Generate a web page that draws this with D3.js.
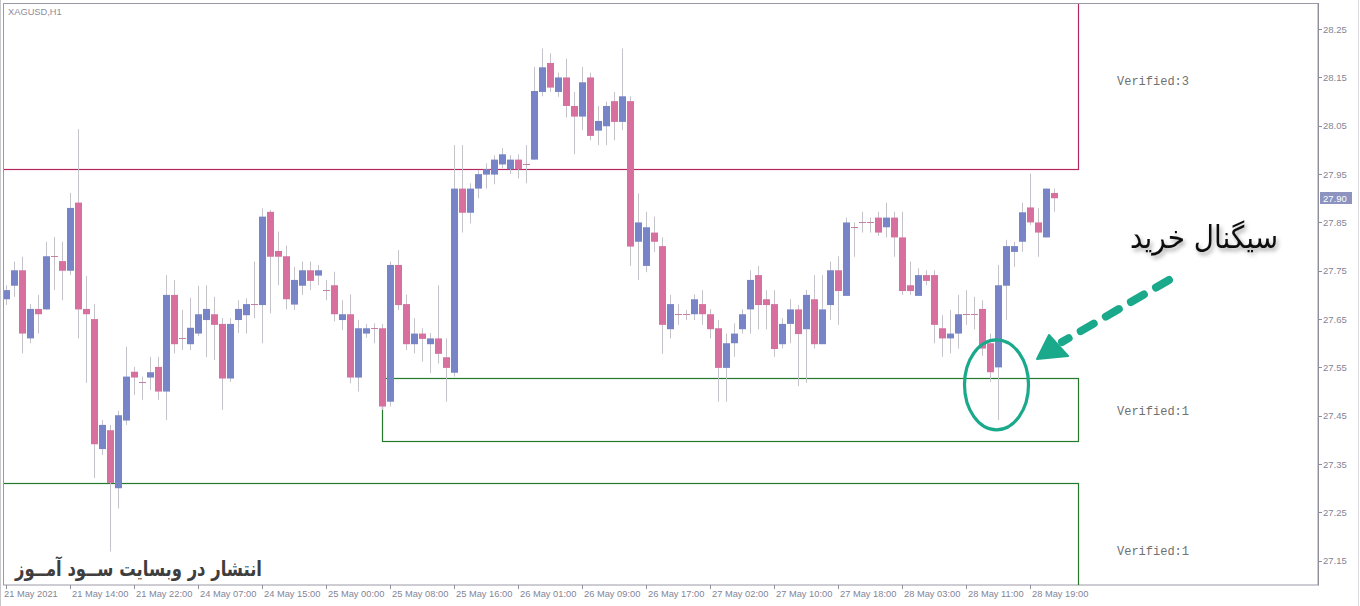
<!DOCTYPE html>
<html><head><meta charset="utf-8">
<script src="https://cdn.jsdelivr.net/npm/d3@7"></script>
<style>html,body{margin:0;padding:0;background:#fff;overflow:hidden}svg{display:block}</style>
</head><body>
<svg id="chart" width="1360" height="606"></svg>
<script>
// ---------------- data ----------------
const symbolTitle = "XAGUSD,H1";
const open = [27.691,27.719,27.751,27.610,27.671,27.670,27.780,27.770,27.750,27.891,
27.671,27.650,27.381,27.420,27.300,27.440,27.541,27.519,27.529,27.551,
27.500,27.700,27.610,27.598,27.620,27.648,27.660,27.640,27.527,27.648,
27.658,27.681,27.679,27.872,27.791,27.780,27.680,27.719,27.751,27.740,
27.710,27.720,27.648,27.660,27.529,27.620,27.631,27.631,27.479,27.762,
27.681,27.598,27.620,27.598,27.610,27.571,27.539,27.920,27.870,27.920,
27.949,27.949,27.970,27.960,27.980,27.970,27.980,28.120,28.180,28.120,
28.150,28.091,28.069,28.150,28.040,28.049,28.101,28.058,28.101,27.810,
27.760,27.829,27.801,27.629,27.660,27.660,27.660,27.681,27.660,27.631,
27.549,27.600,27.629,27.670,27.741,27.691,27.681,27.598,27.640,27.670,
27.629,27.691,27.598,27.679,27.751,27.698,27.840,27.850,27.850,27.860,
27.840,27.860,27.819,27.720,27.698,27.741,27.741,27.631,27.610,27.620,
27.660,27.660,27.671,27.600,27.550,27.719,27.789,27.810,27.881,27.850,
27.819,27.911];
const high = [27.720,27.769,27.779,27.681,27.700,27.810,27.820,27.810,27.911,28.043,
27.739,27.681,27.441,27.431,27.460,27.593,27.551,27.531,27.572,27.572,
27.741,27.731,27.669,27.694,27.719,27.720,27.696,27.652,27.652,27.689,
27.693,27.769,27.879,27.876,27.831,27.802,27.758,27.769,27.769,27.762,
27.731,27.748,27.689,27.701,27.648,27.640,27.641,27.640,27.769,27.793,
27.701,27.652,27.631,27.621,27.720,27.610,28.010,28.010,27.931,27.958,
27.972,27.989,28.004,27.989,27.991,28.010,28.172,28.210,28.200,28.160,
28.189,28.120,28.172,28.160,28.091,28.100,28.120,28.210,28.111,27.910,
27.872,27.862,27.819,27.700,27.681,27.669,27.701,27.710,27.671,27.648,
27.620,27.641,27.670,27.751,27.760,27.710,27.710,27.652,27.691,27.679,
27.710,27.741,27.741,27.769,27.780,27.860,27.850,27.872,27.860,27.872,
27.891,27.872,27.872,27.769,27.755,27.751,27.751,27.658,27.669,27.700,
27.710,27.696,27.689,27.620,27.762,27.814,27.810,27.891,27.951,27.880,
27.920,27.920];
const low = [27.679,27.696,27.579,27.600,27.620,27.669,27.710,27.689,27.741,27.610,
27.518,27.321,27.369,27.169,27.258,27.431,27.493,27.483,27.503,27.483,
27.441,27.579,27.586,27.586,27.615,27.571,27.565,27.462,27.520,27.621,
27.620,27.652,27.600,27.662,27.720,27.670,27.669,27.700,27.710,27.720,
27.689,27.645,27.627,27.517,27.500,27.611,27.600,27.462,27.469,27.669,
27.586,27.579,27.562,27.538,27.558,27.479,27.531,27.829,27.848,27.900,
27.920,27.929,27.962,27.950,27.941,27.931,27.979,28.111,28.120,28.110,
28.067,27.991,28.041,28.020,28.010,28.010,28.020,28.041,27.760,27.731,
27.747,27.789,27.578,27.610,27.638,27.648,27.648,27.638,27.610,27.479,
27.479,27.572,27.620,27.620,27.629,27.629,27.572,27.589,27.600,27.511,
27.518,27.589,27.598,27.648,27.638,27.698,27.779,27.829,27.829,27.822,
27.819,27.779,27.700,27.700,27.698,27.720,27.600,27.572,27.579,27.589,
27.638,27.629,27.574,27.520,27.441,27.648,27.758,27.789,27.845,27.779,
27.819,27.872];
const close = [27.710,27.751,27.620,27.671,27.660,27.780,27.779,27.750,27.880,27.670,
27.660,27.391,27.431,27.311,27.451,27.531,27.529,27.519,27.540,27.500,
27.700,27.598,27.610,27.632,27.660,27.671,27.638,27.527,27.640,27.671,
27.681,27.681,27.862,27.779,27.779,27.691,27.731,27.751,27.729,27.751,
27.710,27.660,27.660,27.529,27.631,27.631,27.631,27.469,27.762,27.679,
27.598,27.620,27.609,27.610,27.578,27.549,27.920,27.870,27.920,27.950,
27.960,27.980,27.991,27.980,27.960,27.970,28.122,28.171,28.129,28.150,
28.091,28.069,28.140,28.029,28.060,28.091,28.058,28.111,27.800,27.850,
27.840,27.810,27.638,27.681,27.660,27.660,27.691,27.660,27.629,27.549,
27.600,27.620,27.660,27.731,27.679,27.679,27.588,27.640,27.670,27.619,
27.700,27.598,27.670,27.751,27.708,27.850,27.840,27.850,27.850,27.829,
27.860,27.819,27.708,27.708,27.741,27.729,27.638,27.610,27.620,27.660,
27.660,27.660,27.589,27.540,27.720,27.801,27.801,27.871,27.850,27.829,
27.920,27.900];

const timeTickBar = [0,8,16,24,32,40,48,56,64,72,80,88,96,104,112,120,128];
const timeTickLabels = ["21 May 2021","21 May 14:00","21 May 22:00","24 May 07:00","24 May 15:00",
"25 May 00:00","25 May 08:00","25 May 16:00","26 May 01:00","26 May 09:00","26 May 17:00",
"27 May 02:00","27 May 10:00","27 May 18:00","28 May 03:00","28 May 11:00","28 May 19:00"];
const priceTicks = [28.25,28.15,28.05,27.95,27.85,27.75,27.65,27.55,27.45,27.35,27.25,27.15];

const zoneTop = [28.333, 27.528, 27.311];
const zoneBottom = [27.960, 27.398, 27.034];
const zoneStartBar = [-1, 47, -1];
const zoneEndBar = [134, 134, 134];
const zoneType = ["supply","demand","demand"];
const zoneLabels = ["Verified:3","Verified:1","Verified:1"];

const signalText = "سیگنال خرید";
const watermarkText = "انتشار در وبسایت ســود آمــوز";
const signalBar = 124;
const signalPrice = 27.514;

// ---------------- layout ----------------
const W = 1360, H = 606;
const L = 4, R = 1318, T = 4, B = 585;
const svg = d3.select("#chart");
const x = d3.scaleLinear().domain([-0.25, 164]).range([L, R]);
const y = d3.scaleLinear().domain([27.0997, 28.302]).range([B, T]);

const BLUE = "#7884c8", PINK = "#d8709f", WICK = "#c3c3c9";
const SUPPLY = "#b5285f", DEMAND = "#25792a", TEAL = "#1ba98b";
const AXIS_TXT = "#858595";

const defs = svg.append("defs");
defs.append("clipPath").attr("id","plot").append("rect")
  .attr("x",L).attr("y",T).attr("width",R-L).attr("height",B-T);
const sh = defs.append("filter").attr("id","shadow").attr("x","-20%").attr("y","-40%").attr("width","150%").attr("height","200%");
sh.append("feDropShadow").attr("dx",2).attr("dy",3).attr("stdDeviation",2)
  .attr("flood-color","#000").attr("flood-opacity",0.35);

svg.append("rect").attr("width",W).attr("height",H).attr("fill","#fff");

// frame
svg.append("line").attr("x1",0.5).attr("x2",0.5).attr("y1",0).attr("y2",H).attr("stroke","#c8c8cc");
svg.append("rect").attr("x",3.5).attr("y",3.5).attr("width",R-3.5).attr("height",B-3.5)
  .attr("fill","none").attr("stroke","#9a9aa6");
svg.append("line").attr("x1",W-1.5).attr("x2",W-1.5).attr("y1",0).attr("y2",H).attr("stroke","#dcdce0");

const plot = svg.append("g").attr("clip-path","url(#plot)");

// zones
const zones = zoneTop.map((t,i)=>({t, b:zoneBottom[i], s:zoneStartBar[i], e:zoneEndBar[i], type:zoneType[i], label:zoneLabels[i]}));
plot.selectAll("rect.zone").data(zones).join("rect").attr("class","zone")
  .attr("x",d=>Math.round(x(d.s))+0.5)
  .attr("y",d=>Math.round(y(d.t))+0.5)
  .attr("width",d=>Math.round(x(d.e))-Math.round(x(d.s)))
  .attr("height",d=>Math.round(y(d.b))-Math.round(y(d.t)))
  .attr("fill","none")
  .attr("stroke",d=>d.type==="supply"?SUPPLY:DEMAND).attr("stroke-width",1.2);

svg.selectAll("text.zl").data(zones).join("text").attr("class","zl")
  .attr("x",1117).attr("y",d=>y((d.t+d.b)/2)+5.5)
  .attr("font-family","'Liberation Mono', 'Courier New', monospace").attr("font-size",12)
  .attr("fill","#707070").text(d=>d.label);

// candles
const bars = open.map((o,i)=>({i,o,h:high[i],l:low[i],c:close[i]}));
const cx = i => Math.round(x(i));
plot.selectAll("line.wick").data(bars).join("line").attr("class","wick")
  .attr("x1",d=>cx(d.i)+0.5).attr("x2",d=>cx(d.i)+0.5)
  .attr("y1",d=>y(d.h)).attr("y2",d=>y(d.l))
  .attr("stroke",WICK).attr("stroke-width",1);
plot.selectAll("rect.body").data(bars).join("rect").attr("class","body")
  .attr("x",d=>cx(d.i)-3).attr("width",7)
  .attr("y",d=>Math.abs(d.o-d.c)<0.004 ? Math.round(y(d.o)) : y(Math.max(d.o,d.c)))
  .attr("height",d=>Math.abs(d.o-d.c)<0.004 ? 1 : Math.max(1,y(Math.min(d.o,d.c))-y(Math.max(d.o,d.c))))
  .attr("fill",d=>Math.abs(d.o-d.c)<0.004 ? "#c97fa2" : (d.c>d.o?BLUE:PINK));

// price axis
const pa = svg.append("g");
pa.append("line").attr("x1",R+0.5).attr("x2",R+0.5).attr("y1",3).attr("y2",B+0.5).attr("stroke","#8e8e9c");
pa.selectAll("line.pt").data(priceTicks).join("line").attr("class","pt")
  .attr("x1",R).attr("x2",R+4).attr("y1",d=>Math.round(y(d))+0.5).attr("y2",d=>Math.round(y(d))+0.5)
  .attr("stroke","#8e8e9c");
pa.selectAll("text.pl").data(priceTicks).join("text").attr("class","pl")
  .attr("x",R+5).attr("y",d=>y(d)+3.5)
  .attr("font-family","'Liberation Sans', Arial, sans-serif").attr("font-size",9.5)
  .attr("fill",AXIS_TXT).text(d=>d.toFixed(2));

// current price box
const last = close[close.length-1];
pa.append("rect").attr("x",R+2).attr("y",Math.round(y(last))-6).attr("width",32).attr("height",12).attr("fill","#8b93be");
pa.append("text").attr("x",R+5).attr("y",y(last)+3.5)
  .attr("font-family","'Liberation Sans', Arial, sans-serif").attr("font-size",9.5)
  .attr("fill","#fff").text(last.toFixed(2));

// time axis
const ta = svg.append("g");
ta.selectAll("line.tt").data(timeTickBar).join("line").attr("class","tt")
  .attr("x1",d=>cx(d)+0.5).attr("x2",d=>cx(d)+0.5).attr("y1",B).attr("y2",B+4).attr("stroke","#8e8e9c");
ta.selectAll("text.tl").data(timeTickBar).join("text").attr("class","tl")
  .attr("x",(d,i)=> i===0 ? 4 : cx(d)+2).attr("y",597)
  .attr("font-family","'Liberation Sans', Arial, sans-serif").attr("font-size",9.3)
  .attr("fill",AXIS_TXT).text((d,i)=>timeTickLabels[i]);

// title
svg.append("text").attr("x",8).attr("y",15)
  .attr("font-family","'Liberation Sans', Arial, sans-serif").attr("font-size",9.3)
  .attr("fill","#8c8c9c").text(symbolTitle);

// annotations
svg.append("text").attr("x",1130).attr("y",248)
  .attr("font-family","'DejaVu Sans', sans-serif").attr("font-size",31)
  .attr("textLength",148).attr("lengthAdjust","spacingAndGlyphs")
  .attr("fill","#111").attr("filter","url(#shadow)").text(signalText);

svg.append("text").attr("x",15).attr("y",576)
  .attr("font-family","'DejaVu Sans', sans-serif").attr("font-weight","bold").attr("font-size",21)
  .attr("textLength",247).attr("lengthAdjust","spacingAndGlyphs")
  .attr("fill","#3e3e3e").text(watermarkText);

svg.append("ellipse").attr("cx",x(signalBar)-1.5).attr("cy",y(signalPrice))
  .attr("rx",32).attr("ry",45).attr("fill","none").attr("stroke",TEAL).attr("stroke-width",3.2);

svg.append("line").attr("x1",1169).attr("y1",280).attr("x2",1062).attr("y2",342)
  .attr("stroke",TEAL).attr("stroke-width",8).attr("stroke-dasharray","15 14").attr("stroke-linecap","round");
svg.append("polygon").attr("points","1037,359 1049,335 1068,356").attr("fill",TEAL)
  .attr("stroke",TEAL).attr("stroke-width",2).attr("stroke-linejoin","round");
</script>
</body></html>
